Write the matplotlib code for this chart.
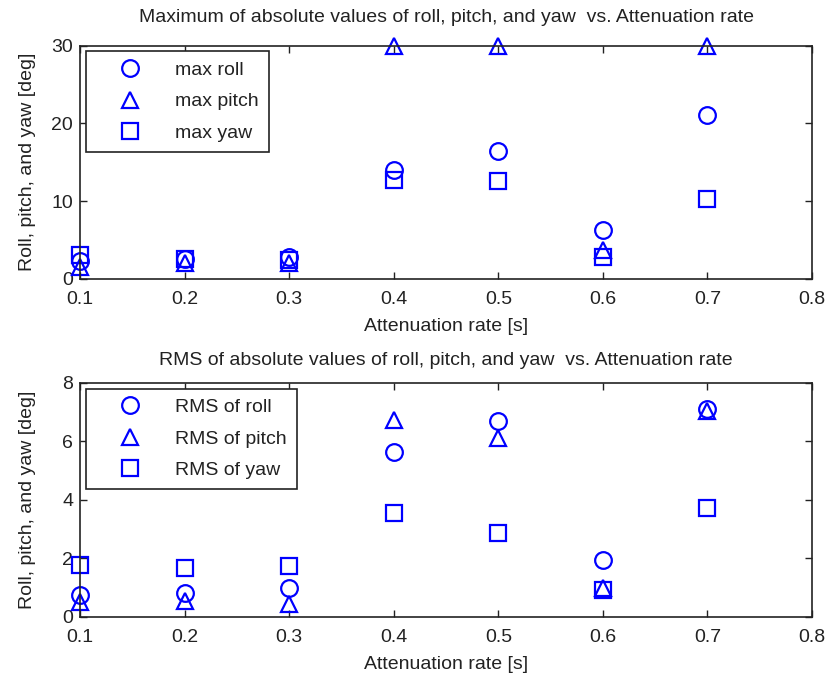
import matplotlib.pyplot as plt

plt.rcParams['font.family'] = ['Liberation Sans', 'DejaVu Sans']

# attenuation rates
rates = [0.1, 0.2, 0.3, 0.4, 0.5, 0.6, 0.7]

# maximum of absolute values [deg]
max_roll = [2.3, 2.5, 2.8, 14.0, 16.5, 6.3, 21.1]
max_pitch = [1.5, 2.0, 2.0, 30.0, 30.0, 3.7, 30.0]
max_yaw = [3.0, 2.6, 2.4, 12.7, 12.6, 2.8, 10.2]

# RMS of absolute values [deg]
rms_roll = [0.75, 0.8, 0.98, 5.65, 6.7, 1.95, 7.1]
rms_pitch = [0.5, 0.55, 0.45, 6.73, 6.1, 1.0, 7.05]
rms_yaw = [1.78, 1.67, 1.72, 3.55, 2.87, 0.9, 3.73]

blue = (0, 0, 1)
dark = '#222222'
fig = plt.figure(figsize=(8.3, 6.8), dpi=100)
ax1 = fig.add_axes([0.0964, 0.590, 0.882, 0.343])
ax2 = fig.add_axes([0.0964, 0.093, 0.882, 0.344])


def draw(ax, roll, pitch, yaw, labels, title, ymax, yticks, title_pad):
    style = dict(linestyle='none', color=blue, markerfacecolor='none',
                 markersize=12, markeredgewidth=1.6, clip_on=False)
    ax.plot(rates, roll, marker='o', label=labels[0], **style)
    ax.plot(rates, pitch, marker='^', label=labels[1], **style)
    ax.plot(rates, yaw, marker='s', label=labels[2], **style)
    ax.set_xlim(0.1, 0.8)
    ax.set_ylim(0, ymax)
    ax.set_xticks([0.1, 0.2, 0.3, 0.4, 0.5, 0.6, 0.7, 0.8])
    ax.set_yticks(yticks)
    ax.tick_params(direction='in', top=True, right=True, labelsize=14,
                   length=5, width=1, colors=dark)
    ax.tick_params(axis='x', pad=9)
    ax.tick_params(axis='y', pad=5)
    for s in ax.spines.values():
        s.set_linewidth(1.2)
        s.set_color(dark)
    ax.set_xlabel('Attenuation rate [s]', fontsize=14, labelpad=7, color=dark)
    ax.set_ylabel('Roll, pitch, and yaw [deg]', fontsize=14, color=dark)
    ax.yaxis.set_label_coords(-0.06, 0.5)
    ax.set_title(title, fontsize=14, pad=title_pad, color=dark)
    leg = ax.legend(loc='upper left', fontsize=14, fancybox=False, framealpha=1,
                    edgecolor=dark, handlelength=3.5, handletextpad=0.6,
                    borderaxespad=0.3, labelspacing=0.72, borderpad=0.5)
    leg.get_frame().set_linewidth(1.2)
    for t in leg.get_texts():
        t.set_color(dark)


draw(ax1, max_roll, max_pitch, max_yaw, ['max roll', 'max pitch', 'max yaw'],
     'Maximum of absolute values of roll, pitch, and yaw  vs. Attenuation rate',
     30, [0, 10, 20, 30], 17)
draw(ax2, rms_roll, rms_pitch, rms_yaw, ['RMS of roll', 'RMS of pitch', 'RMS of yaw'],
     'RMS of absolute values of roll, pitch, and yaw  vs. Attenuation rate',
     8, [0, 2, 4, 6, 8], 13)

fig.savefig('out.png', dpi=100)
